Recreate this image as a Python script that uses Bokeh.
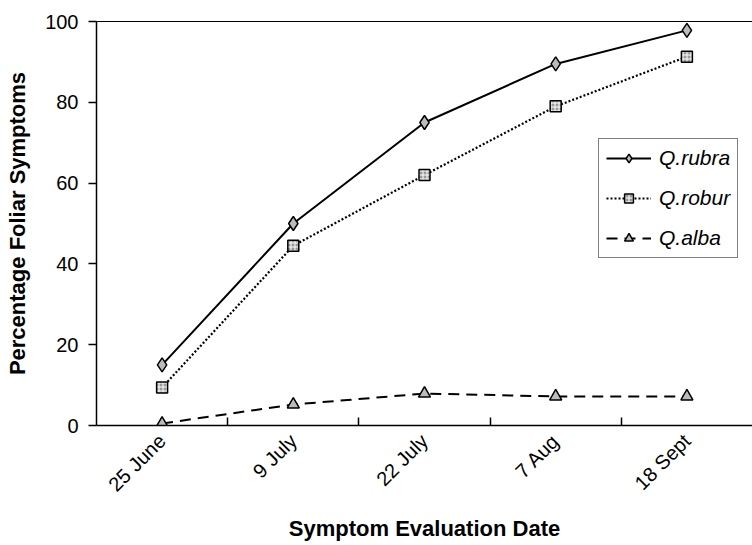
import math
from bokeh.plotting import figure
from bokeh.models import FixedTicker, LinearAxis, Range1d, Legend, LegendItem
from bokeh.embed import file_html
from bokeh.resources import INLINE

dates = ["25 June", "9 July", "22 July", "7 Aug", "18 Sept"]
rubra = [15, 50, 75, 89.5, 97.8]
robur = [9.4, 44.5, 62, 79, 91.3]
alba = [0.5, 5.2, 7.9, 7.2, 7.2]

xs = [i + 0.5 for i in range(len(dates))]
FONT = "Liberation Sans"

p = figure(width=752, height=545, output_backend="svg", toolbar_location=None,
           x_range=Range1d(0, len(dates)), y_range=Range1d(0, 100),
           min_border_left=96, min_border_top=21, min_border_bottom=120, min_border_right=0)
p.xaxis.visible = False
p.yaxis.visible = False
p.grid.visible = False
p.outline_line_color = None
p.background_fill_color = "white"

# x axis
xa = LinearAxis(ticker=FixedTicker(ticks=xs, minor_ticks=list(range(1, len(dates)))))
xa.major_label_overrides = {x: d for x, d in zip(xs, dates)}
xa.major_tick_line_color = None
xa.minor_tick_in = 8
xa.minor_tick_out = 0
xa.minor_tick_line_color = "black"
xa.minor_tick_line_width = 1.5
xa.axis_line_color = "black"
xa.axis_line_width = 1.5
xa.major_label_orientation = math.pi / 4
xa.major_label_text_font = FONT
xa.major_label_text_font_size = "20px"
xa.major_label_text_color = "black"
xa.major_label_standoff = 6
xa.axis_label = "Symptom Evaluation Date"
xa.axis_label_text_font = FONT
xa.axis_label_text_font_style = "bold"
xa.axis_label_text_font_size = "22px"
xa.axis_label_text_color = "black"
xa.axis_label_standoff = 10
p.add_layout(xa, "below")

# y axis
ya = LinearAxis(ticker=FixedTicker(ticks=[0, 20, 40, 60, 80, 100]))
ya.major_tick_in = 0
ya.major_tick_out = 8
ya.major_tick_line_width = 1.5
ya.minor_tick_line_color = None
ya.axis_line_width = 1.5
ya.major_label_text_font = FONT
ya.major_label_text_font_size = "20px"
ya.major_label_text_color = "black"
ya.major_label_standoff = 10
ya.axis_label = "Percentage Foliar Symptoms"
ya.axis_label_text_font = FONT
ya.axis_label_text_font_style = "bold"
ya.axis_label_text_font_size = "22px"
ya.axis_label_text_color = "black"
ya.axis_label_standoff = 12
p.add_layout(ya, "left")

# top border line
ta = LinearAxis(ticker=FixedTicker(ticks=[]))
ta.major_label_text_font_size = "0px"
ta.major_tick_line_color = None
ta.minor_tick_line_color = None
ta.axis_line_width = 1.2
p.add_layout(ta, "above")

l1 = p.line(xs, rubra, line_color="black", line_width=2)
m1 = p.scatter(xs, rubra, marker="diamond", size=14, fill_color="#bbbbbb",
               line_color="black", line_width=1.5)
l2 = p.line(xs, robur, line_color="black", line_width=2.2, line_dash="2 2")
m2 = p.scatter(xs, robur, marker="square", size=11, fill_color="#999999",
               line_color="black", line_width=1.5, hatch_pattern="+", hatch_color="white",
               hatch_scale=4)
l3 = p.line(xs, alba, line_color="black", line_width=2, line_dash="11 7")
m3 = p.scatter(xs, alba, marker="triangle", size=12, fill_color="#bbbbbb",
               line_color="black", line_width=1.5)

legend = Legend(items=[
    LegendItem(label="Q.rubra", renderers=[l1, m1]),
    LegendItem(label="Q.robur", renderers=[l2, m2]),
    LegendItem(label="Q.alba", renderers=[l3, m3]),
], location=(502, 167))
legend.label_text_font = FONT
legend.label_text_font_style = "italic"
legend.label_text_font_size = "21px"
legend.label_text_color = "black"
legend.glyph_width = 45
legend.glyph_height = 22
legend.label_height = 22
legend.spacing = 16
legend.padding = 7
legend.margin = 0
legend.label_standoff = 8
legend.border_line_color = "black"
legend.border_line_width = 1.2
legend.background_fill_alpha = 1
p.add_layout(legend, "center")

open("out.html", "w").write(file_html(p, INLINE))
